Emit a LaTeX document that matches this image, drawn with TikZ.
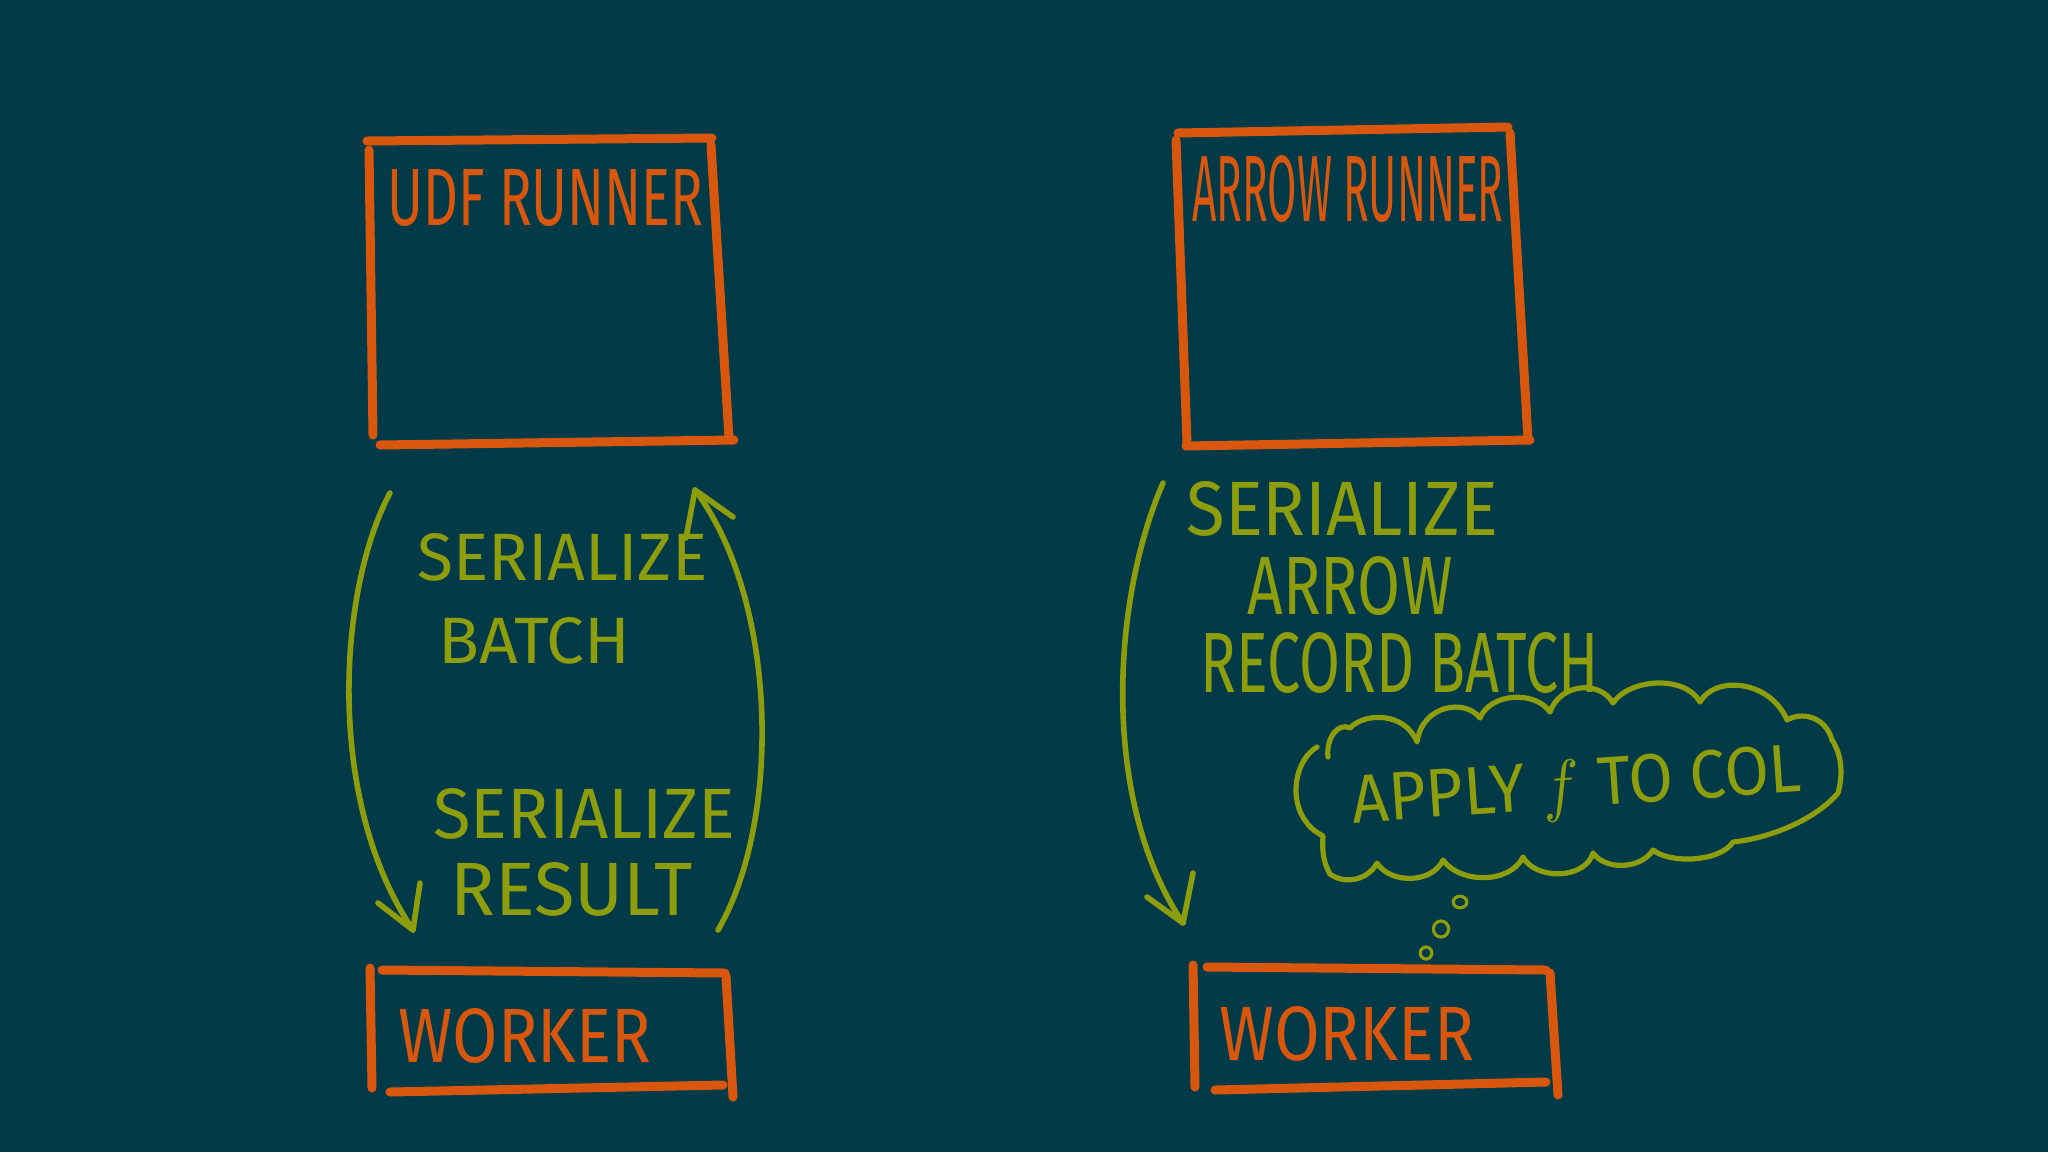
\documentclass[tikz,border=0pt]{standalone}
\usepackage{fontspec}
\setmainfont{Fira Sans}
\definecolor{bg}{HTML}{023A47}
\definecolor{org}{HTML}{D9570D}
\definecolor{grn}{HTML}{8E9D0C}
\newlength\px
\setlength\px{0.5pt}
\tikzset{
  boxline/.style={draw=org, line width=4.5pt, line cap=round},
  flow/.style={draw=grn, line width=2.8pt, line cap=round, line join=round},
  cloudline/.style={draw=grn, line width=2.6pt, line cap=round, line join=round},
  bubble/.style={draw=grn, line width=1.6pt},
  otxt/.style={text=org, inner sep=0pt, anchor=north west},
  gtxt/.style={text=grn, inner sep=0pt, anchor=north west},
}
\begin{document}
\begin{tikzpicture}[x=0.5pt,y=-0.5pt]
\useasboundingbox[fill=bg] (0,0) rectangle (2048,1152);

% ---------- UDF runner box ----------
\coordinate (u1) at (367,141); \coordinate (u2) at (712,138);
\coordinate (u3) at (711,145); \coordinate (u4) at (729,438);
\coordinate (u5) at (369,150); \coordinate (u6) at (373,435);
\coordinate (u7) at (380,445); \coordinate (u8) at (734,440);
\draw[boxline] (u1) -- (u2);
\draw[boxline] (u3) -- (u4);
\draw[boxline] (u5) -- (u6);
\draw[boxline] (u7) -- (u8);
\node[otxt] (udf) at (387,169) {\resizebox{316\px}{56\px}{UDF RUNNER}};

% ---------- Arrow runner box ----------
\coordinate (r1) at (1178,133); \coordinate (r2) at (1508,127);
\coordinate (r3) at (1510,133); \coordinate (r4) at (1528,440);
\coordinate (r5) at (1176,140); \coordinate (r6) at (1187,443);
\coordinate (r7) at (1186,446); \coordinate (r8) at (1530,440);
\draw[boxline] (r1) -- (r2);
\draw[boxline] (r3) -- (r4);
\draw[boxline] (r5) -- (r6);
\draw[boxline] (r7) -- (r8);
\node[otxt] (arrowrunner) at (1192,155) {\resizebox{311\px}{66\px}{ARROW RUNNER}};

% ---------- Worker boxes ----------
\coordinate (w1) at (382,970); \coordinate (w2) at (725,973);
\coordinate (w3) at (370,968); \coordinate (w4) at (372,1088);
\coordinate (w5) at (726,976); \coordinate (w6) at (733,1097);
\coordinate (w7) at (390,1092); \coordinate (w8) at (723,1085);
\draw[boxline] (w1) -- (w2);
\draw[boxline] (w3) -- (w4);
\draw[boxline] (w5) -- (w6);
\draw[boxline] (w7) -- (w8);
\node[otxt] (worker1) at (398,1008) {\resizebox{253\px}{54\px}{WORKER}};

\coordinate (v1) at (1207,967); \coordinate (v2) at (1546,970);
\coordinate (v3) at (1193,965); \coordinate (v4) at (1195,1087);
\coordinate (v5) at (1550,973); \coordinate (v6) at (1558,1095);
\coordinate (v7) at (1215,1090); \coordinate (v8) at (1546,1082);
\draw[boxline] (v1) -- (v2);
\draw[boxline] (v3) -- (v4);
\draw[boxline] (v5) -- (v6);
\draw[boxline] (v7) -- (v8);
\node[otxt] (worker2) at (1219,1006) {\resizebox{255\px}{54\px}{WORKER}};

% ---------- Left flow arrows ----------
\coordinate (a1s) at (390,493); \coordinate (a1e) at (413,930);
\coordinate (a1l) at (378,903); \coordinate (a1r) at (420,883);
\draw[flow] (a1s) .. controls (338,590) and (325,800) .. (a1e);
\draw[flow] (a1l) -- (a1e) -- (a1r);

\coordinate (a2s) at (718,930); \coordinate (a2e) at (695,490);
\coordinate (a2l) at (686,538); \coordinate (a2r) at (733,517);
\draw[flow] (a2s) .. controls (782,820) and (778,600) .. (a2e);
\draw[flow] (a2l) -- (a2e) -- (a2r);

\node[gtxt] (ser1) at (417,533) {\resizebox{290\px}{47\px}{SERIALIZE}};
\node[gtxt] (bat1) at (438,617) {\resizebox{192\px}{46\px}{BATCH}};
\node[gtxt] (ser2) at (433,788) {\resizebox{302\px}{50\px}{SERIALIZE}};
\node[gtxt] (res) at (450,862) {\resizebox{242\px}{53\px}{RESULT}};

% ---------- Right flow arrow ----------
\coordinate (a3s) at (1163,483); \coordinate (a3e) at (1183,923);
\coordinate (a3l) at (1147,897); \coordinate (a3r) at (1193,873);
\draw[flow] (a3s) .. controls (1112,600) and (1100,800) .. (a3e);
\draw[flow] (a3l) -- (a3e) -- (a3r);

\node[gtxt] (ser3) at (1186,481) {\resizebox{312\px}{54\px}{SERIALIZE}};
\node[gtxt] (arw) at (1247,556) {\resizebox{205\px}{58\px}{ARROW}};
\node[gtxt] (rec) at (1200,632) {\resizebox{398\px}{60\px}{RECORD BATCH}};

% ---------- Thought cloud ----------
\draw[cloudline] (1317,747) .. controls (1295,760) and (1288,800) .. (1307,823)
  .. controls (1312,830) and (1318,833) .. (1323,836)
  .. controls (1322,850) and (1323,862) .. (1330,874)
  .. controls (1345,885) and (1368,880) .. (1377,863)
  .. controls (1390,884) and (1432,884) .. (1443,860)
  .. controls (1460,884) and (1510,884) .. (1523,857)
  .. controls (1535,880) and (1585,880) .. (1593,853)
  .. controls (1605,870) and (1640,870) .. (1653,850)
  .. controls (1670,864) and (1720,862) .. (1733,842)
  .. controls (1770,838) and (1815,820) .. (1838,793)
  .. controls (1843,775) and (1842,755) .. (1832,740)
  .. controls (1825,715) and (1800,712) .. (1787,720)
  .. controls (1770,680) and (1715,675) .. (1700,702)
  .. controls (1685,675) and (1630,678) .. (1613,703)
  .. controls (1600,680) and (1560,683) .. (1550,712)
  .. controls (1535,690) and (1490,693) .. (1480,718)
  .. controls (1465,698) and (1422,705) .. (1417,742)
  .. controls (1405,712) and (1365,712) .. (1350,728)
  .. controls (1338,722) and (1326,738) .. (1328,757);
\node[text=grn, inner sep=0pt, rotate=4] (apply) at (1577,790) {\resizebox{450\px}{48\px}{APPLY $f$ TO COL}};

\draw[bubble] (1460,902) ellipse [x radius=3.4pt, y radius=2.9pt];
\draw[bubble] (1441,929) ellipse [x radius=3.8pt, y radius=4pt];
\draw[bubble] (1426,953) ellipse [x radius=2.9pt, y radius=3pt];
\end{tikzpicture}
\end{document}
